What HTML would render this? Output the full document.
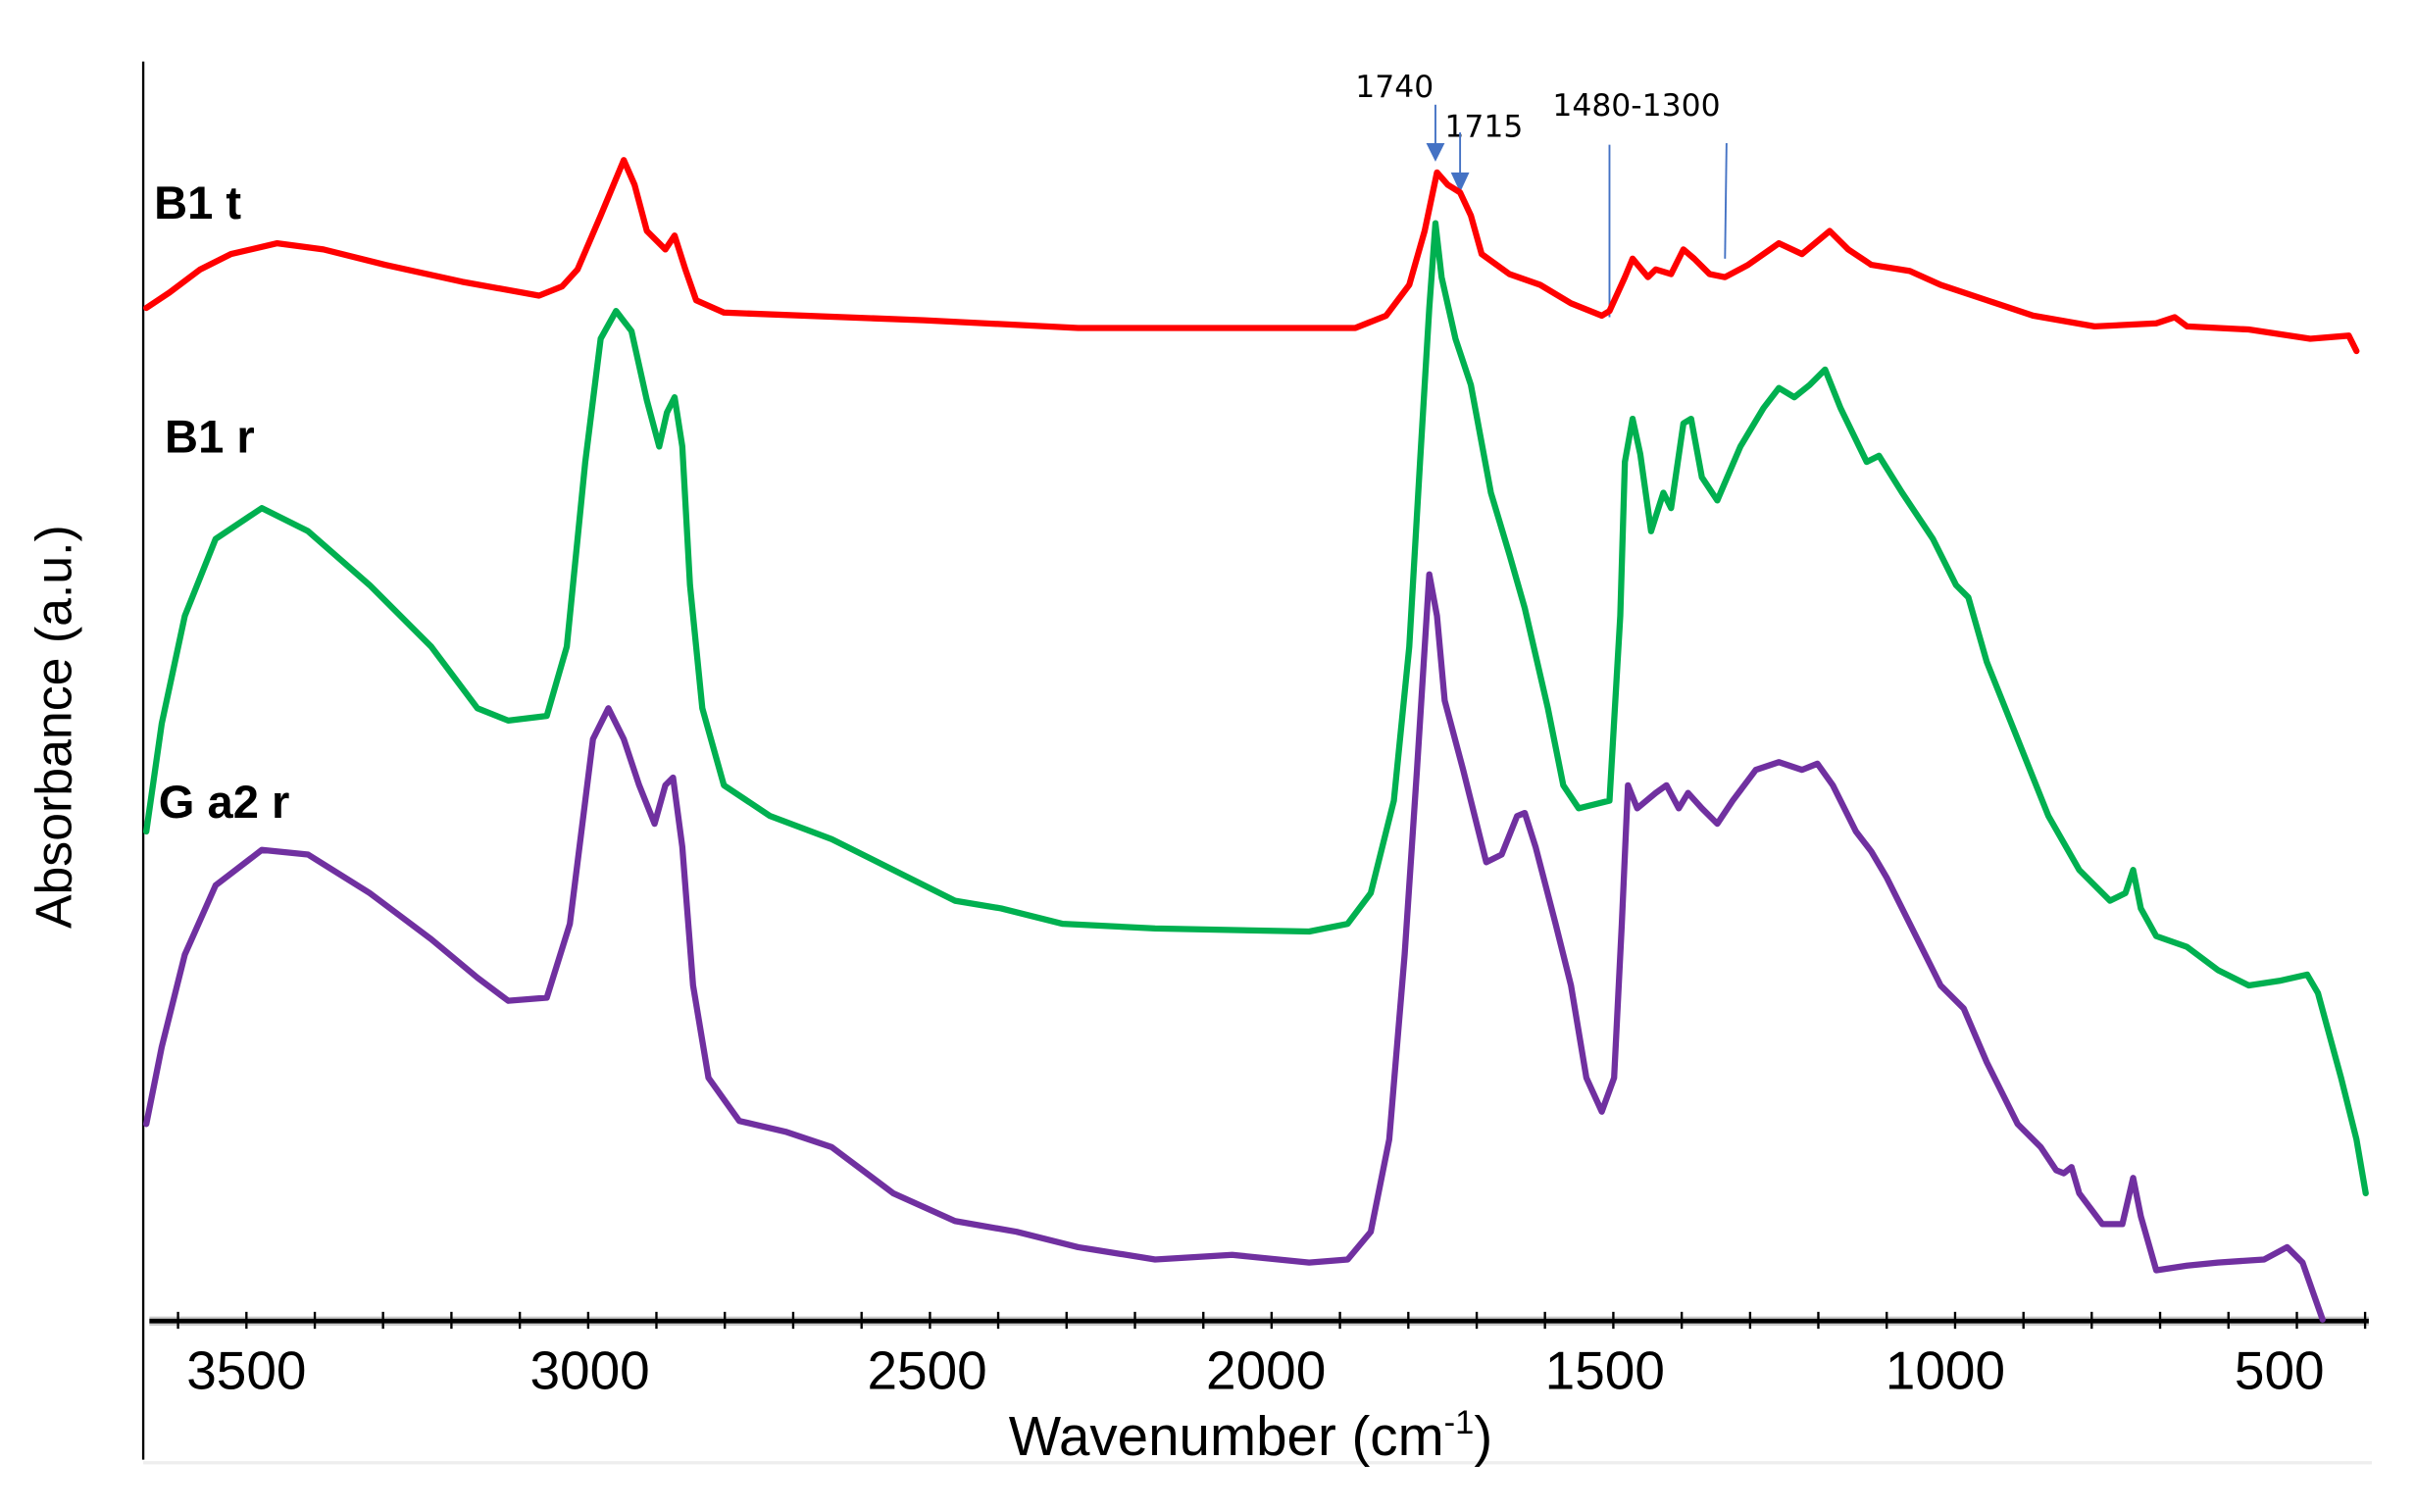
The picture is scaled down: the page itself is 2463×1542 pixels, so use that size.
<!DOCTYPE html>
<html><head><meta charset="utf-8"><style>
html,body{margin:0;padding:0;background:#fff;}
svg{display:block;}
</style></head><body>
<svg width="2463" height="1542" viewBox="0 0 1568 982" preserveAspectRatio="none" xmlns="http://www.w3.org/2000/svg">
<rect width="1568" height="982" fill="#fff"/>
<line x1="93" y1="40" x2="93" y2="948" stroke="#000" stroke-width="1.5"/>
<line x1="93" y1="950" x2="1540" y2="950" stroke="#eee" stroke-width="2"/>
<line x1="97" y1="858" x2="1538" y2="858" stroke="#ccc" stroke-width="6"/>
<line x1="97" y1="858" x2="1538" y2="858" stroke="#000" stroke-width="3"/>
<g stroke="#000" stroke-width="1.5">
<line x1="115.6" y1="852" x2="115.6" y2="863"/><line x1="160" y1="852" x2="160" y2="863"/><line x1="204.4" y1="852" x2="204.4" y2="863"/><line x1="248.7" y1="852" x2="248.7" y2="863"/><line x1="293.1" y1="852" x2="293.1" y2="863"/><line x1="337.5" y1="852" x2="337.5" y2="863"/><line x1="381.9" y1="852" x2="381.9" y2="863"/><line x1="426.2" y1="852" x2="426.2" y2="863"/><line x1="470.6" y1="852" x2="470.6" y2="863"/><line x1="515" y1="852" x2="515" y2="863"/><line x1="559.4" y1="852" x2="559.4" y2="863"/><line x1="603.8" y1="852" x2="603.8" y2="863"/><line x1="648.1" y1="852" x2="648.1" y2="863"/><line x1="692.5" y1="852" x2="692.5" y2="863"/><line x1="736.9" y1="852" x2="736.9" y2="863"/><line x1="781.3" y1="852" x2="781.3" y2="863"/><line x1="825.6" y1="852" x2="825.6" y2="863"/><line x1="870" y1="852" x2="870" y2="863"/><line x1="914.4" y1="852" x2="914.4" y2="863"/><line x1="958.8" y1="852" x2="958.8" y2="863"/><line x1="1003.1" y1="852" x2="1003.1" y2="863"/><line x1="1047.5" y1="852" x2="1047.5" y2="863"/><line x1="1091.9" y1="852" x2="1091.9" y2="863"/><line x1="1136.3" y1="852" x2="1136.3" y2="863"/><line x1="1180.6" y1="852" x2="1180.6" y2="863"/><line x1="1225" y1="852" x2="1225" y2="863"/><line x1="1269.4" y1="852" x2="1269.4" y2="863"/><line x1="1313.8" y1="852" x2="1313.8" y2="863"/><line x1="1358.1" y1="852" x2="1358.1" y2="863"/><line x1="1402.5" y1="852" x2="1402.5" y2="863"/><line x1="1446.9" y1="852" x2="1446.9" y2="863"/><line x1="1491.3" y1="852" x2="1491.3" y2="863"/><line x1="1535.6" y1="852" x2="1535.6" y2="863"/>
</g>
<g font-family="Liberation Sans, sans-serif" font-size="35" text-anchor="middle" fill="#000">
<text x="160" y="902">3500</text><text x="383" y="902">3000</text><text x="602" y="902">2500</text>
<text x="822" y="902">2000</text><text x="1042" y="902">1500</text><text x="1263" y="902">1000</text><text x="1480" y="902">500</text>
<text x="812" y="945" font-size="36">Wavenumber (cm<tspan font-size="22" dy="-14">-1</tspan><tspan dy="14">)</tspan></text>
<text transform="translate(46,472) rotate(-90)" font-size="33">Absorbance (a.u.)</text>
</g>
<g font-family="Liberation Sans, sans-serif" font-size="30" font-weight="bold" fill="#000">
<text x="100" y="142">B1 t</text><text x="107" y="294">B1 r</text><text x="103" y="531">G a2 r</text>
</g>
<g font-family="DejaVu Sans, Liberation Sans, sans-serif" font-size="20" fill="#000">
<text x="880" y="63">1740</text><text x="938" y="89">1715</text><text x="1008" y="75">1480-1300</text>
</g>
<g stroke="#4472c4" stroke-width="1.2" fill="#4472c4">
<line x1="932" y1="68" x2="932" y2="96"/><polygon points="926,93 938,93 932,105" stroke="none"/>
<line x1="948" y1="86" x2="948" y2="114"/><polygon points="942,112 954,112 948,125" stroke="none"/>
<line x1="1045" y1="94" x2="1045" y2="206"/><line x1="1121" y1="93" x2="1120" y2="168"/>
</g>
<g fill="none" stroke-width="4" stroke-linejoin="round" stroke-linecap="round">
<polyline stroke="#ff0000" points="95,200 110,190 130,175 150,165 180,158 210,162 250,172 300,183 350,192 365,186 375,175 390,140 405,104 412,120 420,150 432,162 438,153 445,175 452,195 470,203 600,208 700,213 880,213 900,205 915,185 925,150 933,112 940,120 948,125 955,140 962,165 980,178 1000,185 1020,197 1040,205 1045,202 1055,180 1060,168 1070,180 1075,175 1085,178 1093,162 1100,168 1110,178 1120,180 1135,172 1155,158 1170,165 1188,150 1200,162 1215,172 1240,176 1260,185 1290,195 1320,205 1360,212 1400,210 1412,206 1420,212 1460,214 1500,220 1525,218 1530,228"/>
<polyline stroke="#00b050" points="95,540 105,470 120,400 140,350 170,330 200,345 240,380 280,420 310,460 330,468 355,465 368,420 380,300 390,220 400,202 410,215 420,260 428,290 433,268 438,258 443,290 448,380 456,460 470,510 500,530 540,545 580,565 620,585 650,590 690,600 750,603 850,605 875,600 890,580 905,520 915,420 922,300 928,200 932,145 936,180 945,220 955,250 968,320 980,360 990,395 1005,460 1015,510 1025,525 1045,520 1052,400 1055,300 1060,272 1065,295 1072,345 1080,320 1085,330 1093,275 1098,272 1105,310 1115,325 1130,290 1145,265 1155,252 1165,258 1175,250 1185,240 1195,265 1212,300 1220,296 1235,320 1255,350 1270,380 1278,388 1290,430 1310,480 1330,530 1350,565 1370,585 1380,580 1385,565 1390,590 1400,608 1420,615 1440,630 1460,640 1480,637 1498,633 1505,645 1520,700 1530,740 1536,775"/>
<polyline stroke="#7030a0" points="95,730 105,680 120,620 140,575 170,552 200,555 240,580 280,610 310,635 330,650 355,648 370,600 385,480 395,460 405,480 415,510 425,535 432,510 437,505 443,550 450,640 460,700 480,728 510,735 540,745 580,775 620,793 660,800 700,810 750,818 800,815 850,820 875,818 890,800 902,740 912,620 920,500 928,373 933,400 938,455 950,500 965,560 975,555 985,530 990,528 997,550 1010,600 1020,640 1030,700 1040,722 1048,700 1053,600 1057,510 1063,525 1075,515 1082,510 1090,525 1096,515 1105,525 1115,535 1125,520 1140,500 1155,495 1170,500 1180,496 1190,510 1205,540 1215,553 1225,570 1240,600 1260,640 1275,655 1290,690 1310,730 1325,745 1335,760 1340,762 1345,758 1350,775 1365,795 1378,795 1385,765 1390,790 1400,825 1420,822 1440,820 1470,818 1485,810 1495,820 1502,840 1508,857"/>
</g>
</svg>
</body></html>
